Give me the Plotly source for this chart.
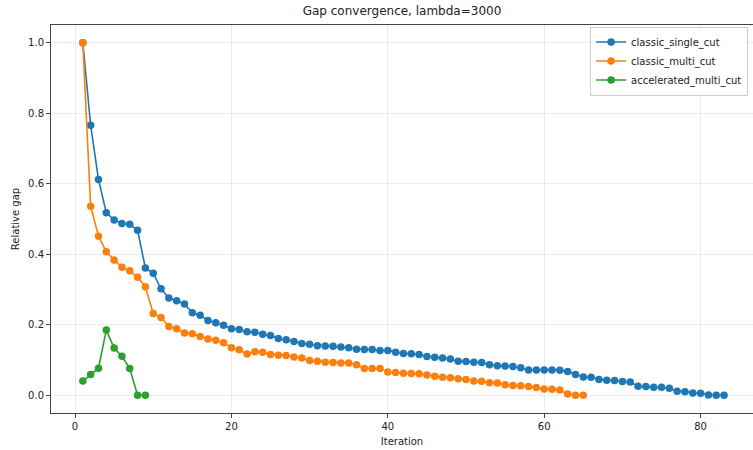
import plotly.graph_objects as go

iters_single = list(range(1, 84))
gap_single = [
    1.0, 0.766, 0.612, 0.518, 0.497, 0.487, 0.485, 0.468, 0.361, 0.346,
    0.302, 0.276, 0.268, 0.259, 0.234, 0.227, 0.212, 0.206, 0.199, 0.189,
    0.187, 0.180, 0.179, 0.173, 0.170, 0.161, 0.158, 0.153, 0.147, 0.145,
    0.141, 0.140, 0.139, 0.137, 0.135, 0.131, 0.130, 0.130, 0.127, 0.127,
    0.122, 0.119, 0.118, 0.116, 0.110, 0.108, 0.106, 0.103, 0.097, 0.096,
    0.094, 0.093, 0.087, 0.084, 0.083, 0.082, 0.078, 0.072, 0.072, 0.072,
    0.072, 0.071, 0.068, 0.059, 0.052, 0.051, 0.045, 0.043, 0.042, 0.039,
    0.038, 0.026, 0.025, 0.023, 0.023, 0.020, 0.012, 0.010, 0.007, 0.006,
    0.001, 0.0005, 0.0,
]

iters_multi = list(range(1, 66))
gap_multi = [
    1.0, 0.536, 0.451, 0.407, 0.384, 0.363, 0.353, 0.335, 0.308, 0.232,
    0.221, 0.195, 0.189, 0.177, 0.175, 0.167, 0.160, 0.156, 0.149, 0.135,
    0.129, 0.117, 0.124, 0.122, 0.116, 0.114, 0.113, 0.109, 0.106, 0.099,
    0.097, 0.094, 0.093, 0.092, 0.092, 0.087, 0.076, 0.076, 0.076, 0.066,
    0.065, 0.063, 0.062, 0.061, 0.058, 0.054, 0.051, 0.050, 0.047, 0.045,
    0.041, 0.040, 0.036, 0.035, 0.030, 0.028, 0.027, 0.025, 0.022, 0.018,
    0.017, 0.015, 0.004, 0.0005, 0.0,
]

iters_acc = list(range(1, 10))
gap_acc = [0.0405, 0.059, 0.077, 0.185, 0.134, 0.111, 0.076, 0.0005, 0.0]

names = ["classic_single_cut", "classic_multi_cut", "accelerated_multi_cut"]
colors = ["#1f77b4", "#ff7f0e", "#2ca02c"]
x_ticks = [0, 20, 40, 60, 80]
y_ticks = [0.0, 0.2, 0.4, 0.6, 0.8, 1.0]

FONT = "DejaVu Sans"

fig = go.Figure()
for xs, ys, name, col in zip(
    [iters_single, iters_multi, iters_acc],
    [gap_single, gap_multi, gap_acc],
    names, colors,
):
    fig.add_trace(go.Scatter(
        x=xs, y=ys, name=name, mode="lines+markers",
        line=dict(color=col, width=1.6),
        marker=dict(color=col, size=7.5),
    ))

axis_common = dict(
    showgrid=True, gridcolor="#ebebeb", gridwidth=1,
    showline=True, linecolor="#444444", linewidth=1,
    ticks="outside", ticklen=4, tickcolor="#444444", tickwidth=1,
    zeroline=False,
    tickfont=dict(family=FONT, size=10, color="#222222"),
)

fig.update_layout(
    width=753, height=450,
    margin=dict(l=51, r=0, t=25, b=37),
    paper_bgcolor="white", plot_bgcolor="white",
    title=dict(
        text="Gap convergence, lambda=3000",
        x=0.5, xref="paper", xanchor="center",
        y=1, yref="container", yanchor="top", pad=dict(t=7),
        font=dict(family=FONT, size=12, color="#222222"),
    ),
    xaxis=dict(
        range=[-3.07, 86.7], tickvals=x_ticks, mirror=True,
        title=dict(text="Iteration", font=dict(family=FONT, size=10, color="#222222"), standoff=6),
        **axis_common,
    ),
    yaxis=dict(
        range=[-0.05, 1.05], tickvals=y_ticks, tickformat=".1f",
        title=dict(text="Relative gap", font=dict(family=FONT, size=10, color="#222222"), standoff=6),
        **axis_common,
    ),
    legend=dict(
        x=0.993, y=0.996, xanchor="right", yanchor="top",
        bgcolor="rgba(255,255,255,0.8)", bordercolor="#cccccc", borderwidth=1,
        font=dict(family=FONT, size=10, color="#222222"),
        tracegroupgap=0, itemwidth=30,
    ),
    showlegend=True,
)

fig.write_html("out.html")
